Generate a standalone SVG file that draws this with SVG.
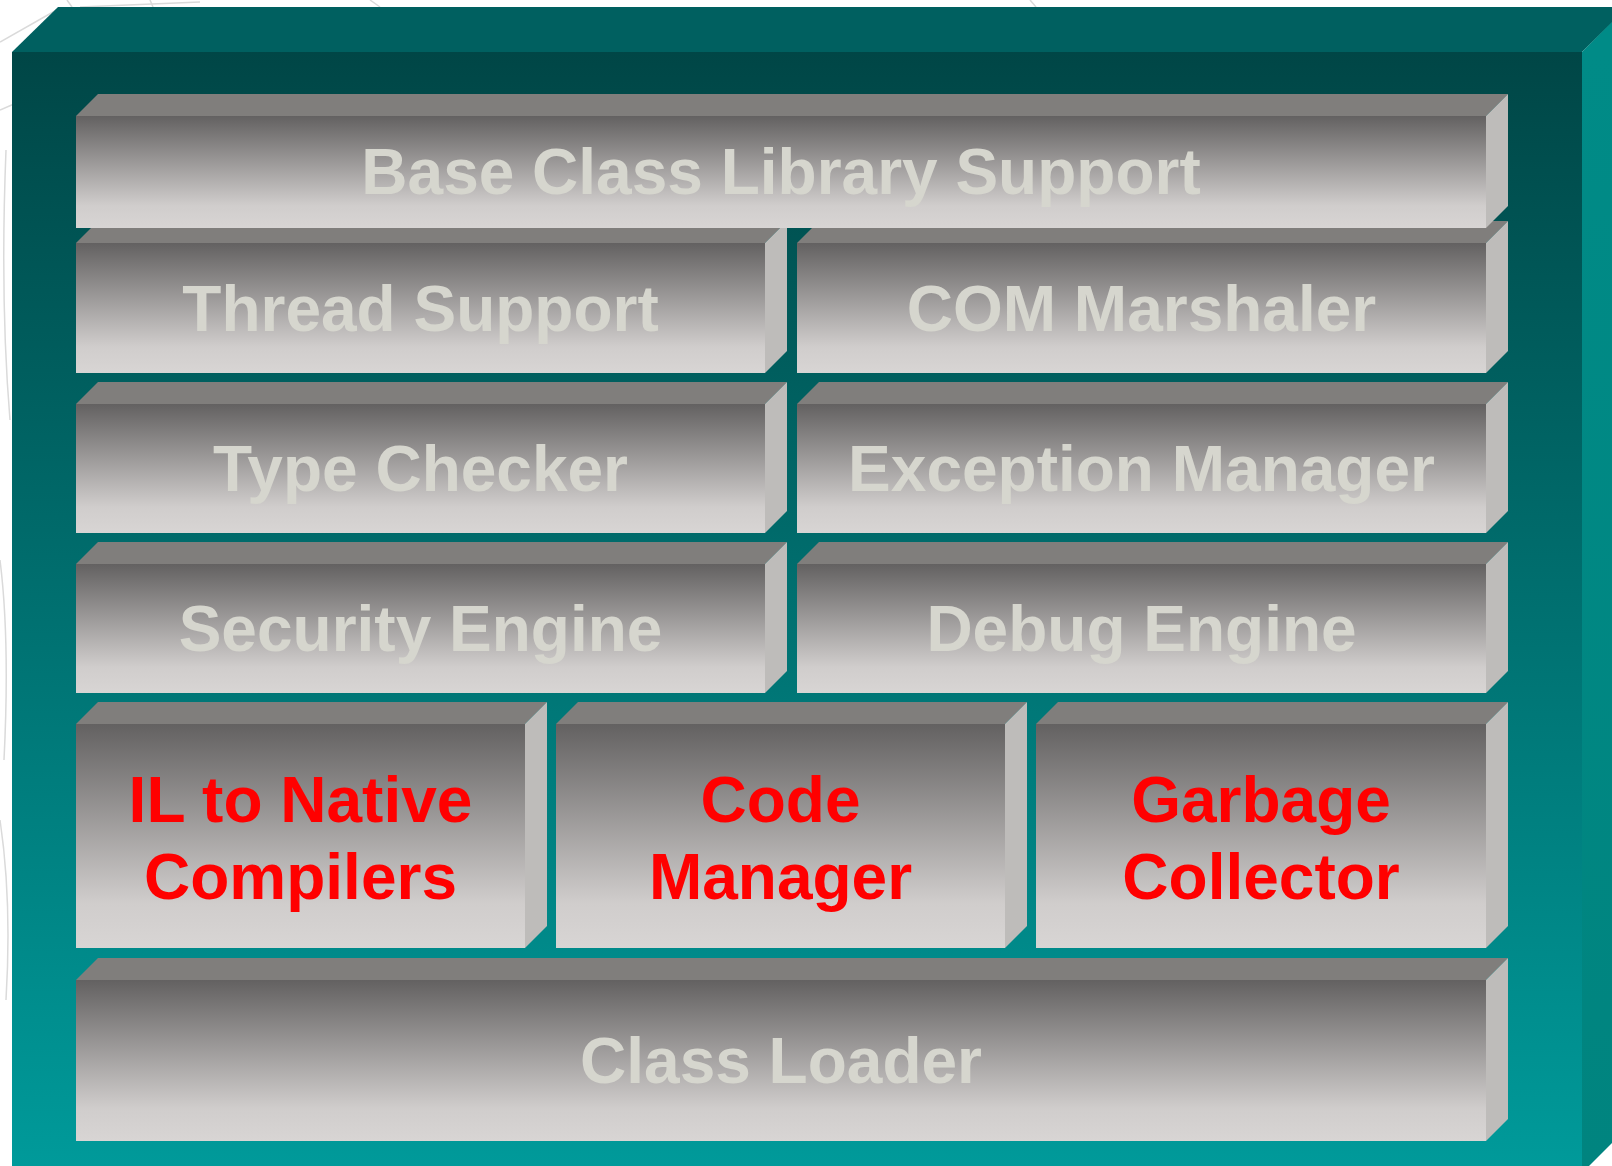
<svg xmlns="http://www.w3.org/2000/svg" width="1612" height="1166" viewBox="0 0 1612 1166">
  <defs>
    <linearGradient id="frontGrad" x1="0" y1="0" x2="0" y2="1">
      <stop offset="0" stop-color="#636161"/>
      <stop offset="0.8" stop-color="#d0cdcc"/>
      <stop offset="1" stop-color="#d8d5d4"/>
    </linearGradient>
    <linearGradient id="frameFront" gradientUnits="userSpaceOnUse" x1="0" y1="52" x2="0" y2="1166">
      <stop offset="0" stop-color="#004646"/>
      <stop offset="1" stop-color="#009a9a"/>
    </linearGradient>
    <linearGradient id="frameSide" gradientUnits="userSpaceOnUse" x1="0" y1="52" x2="0" y2="1166">
      <stop offset="0" stop-color="#008b87"/>
      <stop offset="1" stop-color="#00847f"/>
    </linearGradient>
    <style>
      .front { fill: url(#frontGrad); }
      .top { fill: #807e7c; }
      .side { fill: #bebcba; }
      .lbl { font-family: "Liberation Sans", Arial, sans-serif; font-weight: bold; font-size: 64px; text-anchor: middle; fill: #d6d6ce; }
      .red { fill: #ff0000; }
      .bgline { fill: none; stroke: #dadada; stroke-width: 1.5; }
    </style>
  </defs>

  <rect x="0" y="0" width="1612" height="1166" fill="#ffffff"/>

  <g id="background-lines">
    <path class="bgline" d="M0,42 L60,8"/>
    <path class="bgline" d="M0,110 L14,104"/>
    <path class="bgline" d="M67,0 L72,7"/>
    <path class="bgline" d="M80,7 L200,2"/>
    <path class="bgline" d="M150,0 L153,7"/>
    <path class="bgline" d="M6,150 Q0,300 10,420"/>
    <path class="bgline" d="M0,560 Q10,640 4,760"/>
    <path class="bgline" d="M0,820 Q12,900 6,1000"/>
    <path class="bgline" d="M370,0 L380,7"/>
    <path class="bgline" d="M1030,0 L1036,7"/>
  </g>

  <g id="frame">
    <rect x="12" y="52" width="1570" height="1130" fill="url(#frameFront)"/>
    <polygon points="12,52 58,7 1628,7 1582,52" fill="#006060"/>
    <polygon points="1582,52 1628,6 1628,1127 1582,1173" fill="url(#frameSide)"/>
  </g>

  <g id="connectors"/>

  <!-- Row 6 -->
  <g id="class-loader">
    <polygon class="top" points="76,980 98,958 1508,958 1486,980"/>
    <polygon class="side" points="1486,980 1508,958 1508,1119 1486,1141"/>
    <rect class="front" x="76" y="980" width="1410" height="161"/>
    <text class="lbl" x="781" y="1083">Class Loader</text>
  </g>

  <!-- Row 5 -->
  <g id="il-to-native-compilers">
    <polygon class="top" points="76,724 98,702 547,702 525,724"/>
    <polygon class="side" points="525,724 547,702 547,926 525,948"/>
    <rect class="front" x="76" y="724" width="449" height="224"/>
    <text class="lbl red" x="300.5" y="822">IL to Native</text>
    <text class="lbl red" x="300.5" y="899">Compilers</text>
  </g>
  <g id="code-manager">
    <polygon class="top" points="556,724 578,702 1027,702 1005,724"/>
    <polygon class="side" points="1005,724 1027,702 1027,926 1005,948"/>
    <rect class="front" x="556" y="724" width="449" height="224"/>
    <text class="lbl red" x="780.5" y="822">Code</text>
    <text class="lbl red" x="780.5" y="899">Manager</text>
  </g>
  <g id="garbage-collector">
    <polygon class="top" points="1036,724 1058,702 1508,702 1486,724"/>
    <polygon class="side" points="1486,724 1508,702 1508,926 1486,948"/>
    <rect class="front" x="1036" y="724" width="450" height="224"/>
    <text class="lbl red" x="1261" y="822">Garbage</text>
    <text class="lbl red" x="1261" y="899">Collector</text>
  </g>

  <!-- Row 4 -->
  <g id="security-engine">
    <polygon class="top" points="76,564 98,542 787,542 765,564"/>
    <polygon class="side" points="765,564 787,542 787,671 765,693"/>
    <rect class="front" x="76" y="564" width="689" height="129"/>
    <text class="lbl" x="420.5" y="651">Security Engine</text>
  </g>
  <g id="debug-engine">
    <polygon class="top" points="797,564 819,542 1508,542 1486,564"/>
    <polygon class="side" points="1486,564 1508,542 1508,671 1486,693"/>
    <rect class="front" x="797" y="564" width="689" height="129"/>
    <text class="lbl" x="1141.5" y="651">Debug Engine</text>
  </g>

  <!-- Row 3 -->
  <g id="type-checker">
    <polygon class="top" points="76,404 98,382 787,382 765,404"/>
    <polygon class="side" points="765,404 787,382 787,511 765,533"/>
    <rect class="front" x="76" y="404" width="689" height="129"/>
    <text class="lbl" x="420.5" y="491">Type Checker</text>
  </g>
  <g id="exception-manager">
    <polygon class="top" points="797,404 819,382 1508,382 1486,404"/>
    <polygon class="side" points="1486,404 1508,382 1508,511 1486,533"/>
    <rect class="front" x="797" y="404" width="689" height="129"/>
    <text class="lbl" x="1141.5" y="491">Exception Manager</text>
  </g>

  <!-- Row 2 -->
  <g id="thread-support">
    <polygon class="top" points="76,243 98,221 787,221 765,243"/>
    <polygon class="side" points="765,243 787,221 787,351 765,373"/>
    <rect class="front" x="76" y="243" width="689" height="130"/>
    <text class="lbl" x="420.5" y="331">Thread Support</text>
  </g>
  <g id="com-marshaler">
    <polygon class="top" points="797,243 819,221 1508,221 1486,243"/>
    <polygon class="side" points="1486,243 1508,221 1508,351 1486,373"/>
    <rect class="front" x="797" y="243" width="689" height="130"/>
    <text class="lbl" x="1141.5" y="331">COM Marshaler</text>
  </g>

  <!-- Row 1 -->
  <g id="base-class-library-support">
    <polygon class="top" points="76,116 98,94 1508,94 1486,116"/>
    <polygon class="side" points="1486,116 1508,94 1508,206 1486,228"/>
    <rect class="front" x="76" y="116" width="1410" height="112"/>
    <text class="lbl" x="781" y="194">Base Class Library Support</text>
  </g>
</svg>
